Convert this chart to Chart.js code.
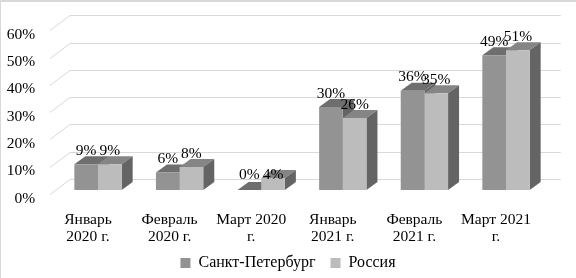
<!DOCTYPE html>
<html>
<head>
<meta charset="utf-8">
<style>
  html, body { margin: 0; padding: 0; background: #fff; }
  #wrap { position: relative; width: 576px; height: 278px; overflow: hidden; }
  #wrap::after { content: ""; position: absolute; left: 0; top: 0; right: 0; bottom: 0; border-top: 2px solid #d9d9d9; border-left: 1px solid #d9d9d9; pointer-events: none; }
</style>
</head>
<body>
<div id="wrap"><canvas id="chart" width="576" height="278"></canvas></div>
<script src="https://cdn.jsdelivr.net/npm/chart.js@4/dist/chart.umd.min.js"></script>
<script>
const categories = [
  ["Январь", "2020 г."], ["Февраль", "2020 г."], ["Март 2020", "г."],
  ["Январь", "2021 г."], ["Февраль", "2021 г."], ["Март 2021", "г."],
];
const spbValues = [9.4, 6.4, 0, 30.4, 36.4, 49.4];
const russiaValues = [9.4, 8.4, 4.4, 26.4, 35.4, 51.2];
const spbLabel = "Санкт-Петербург";
const russiaLabel = "Россия";

const fontFamily = '"Liberation Serif", "Times New Roman", serif';
const textFont = { family: fontFamily, size: 15.5 };
const rightPad = 29.2;
const depthX = 11;
const depthY = 8;
const faces = [
  { top: "#6e6e6e", side: "#646464" },
  { top: "#858585", side: "#646464" },
];

function quad(ctx, pts, color) {
  ctx.beginPath();
  ctx.moveTo(pts[0][0], pts[0][1]);
  pts.slice(1).forEach((p) => ctx.lineTo(p[0], p[1]));
  ctx.closePath();
  ctx.fillStyle = color;
  ctx.fill();
}

// legend is centred on the whole canvas, not on the padded area
const legendCentre = {
  id: "legendCentre",
  afterLayout(chart) {
    chart.legend.right += rightPad;
    chart.legend.top += 3;
    chart.legend.bottom += 3;
  },
};

const walls = {
  id: "walls",
  beforeDatasetsDraw(chart) {
    const { ctx, chartArea } = chart;
    const y = chart.scales.y;
    ctx.save();
    ctx.strokeStyle = "#d9d9d9";
    ctx.lineWidth = 1;
    y.ticks.forEach((t) => {
      const py = Math.round(y.getPixelForValue(t.value) - 11) + 0.5;
      ctx.beginPath();
      ctx.moveTo(50, py + 15);
      ctx.lineTo(70, py);
      ctx.lineTo(chartArea.right + 14, py);
      ctx.stroke();
    });
    ctx.restore();
  },
};

// top and side faces of the bars, behind the front faces
const boxes = {
  id: "boxes",
  beforeDatasetsDraw(chart) {
    const { ctx } = chart;
    ctx.save();
    chart.data.datasets.forEach((ds, d) => {
      chart.getDatasetMeta(d).data.forEach((el) => {
        const half = el.width / 2;
        const l = el.x - half, r = el.x + half;
        quad(ctx, [[l, el.y], [l + depthX, el.y - depthY], [r + depthX, el.y - depthY], [r, el.y]], faces[d].top);
        quad(ctx, [[r, el.y], [r + depthX, el.y - depthY], [r + depthX, el.base - depthY], [r, el.base]], faces[d].side);
      });
    });
    ctx.restore();
  },
};

const valueLabels = {
  id: "valueLabels",
  afterDatasetsDraw(chart) {
    const { ctx } = chart;
    ctx.save();
    ctx.font = "15.5px " + fontFamily;
    ctx.fillStyle = "#000";
    ctx.textAlign = "center";
    ctx.textBaseline = "middle";
    chart.data.datasets.forEach((ds, d) => {
      chart.getDatasetMeta(d).data.forEach((el, i) => {
        // March 2020 labels sit together just above the floor
        const ly = i === 2 ? el.base - 15 : el.y - 13.5;
        ctx.fillText(Math.round(ds.data[i]) + "%", el.x, ly);
      });
    });
    ctx.restore();
  },
};

new Chart(document.getElementById("chart"), {
  type: "bar",
  data: {
    labels: categories,
    datasets: [
      { label: spbLabel, data: spbValues, backgroundColor: "#939393", borderWidth: 0 },
      { label: russiaLabel, data: russiaValues, backgroundColor: "#bcbcbc", borderWidth: 0 },
    ],
  },
  options: {
    responsive: false,
    animation: false,
    layout: { autoPadding: false, padding: { top: 26.2, right: rightPad, left: 0, bottom: 0 } },
    datasets: { bar: { categoryPercentage: 0.58, barPercentage: 1 } },
    scales: {
      x: {
        grid: { display: false },
        border: { display: false },
        afterFit(scale) { scale.height = 59; },
        ticks: {
          color: "#000",
          font: { ...textFont, lineHeight: "17.5px" },
          maxRotation: 0,
          autoSkip: false,
          padding: 13,
          labelOffset: -10,
        },
      },
      y: {
        min: 0,
        max: 60,
        grid: { display: false },
        border: { display: false },
        afterFit(scale) { scale.width = 57.2; },
        ticks: {
          stepSize: 10,
          color: "#000",
          font: textFont,
          padding: 14,
          labelOffset: 8.5,
          callback: (v) => v + "%",
        },
      },
    },
    plugins: {
      tooltip: { enabled: false },
      legend: {
        position: "bottom",
        labels: {
          color: "#000",
          font: { family: fontFamily, size: 16 },
          boxWidth: 10,
          boxHeight: 10,
          padding: 3,
          // extra gap between the two legend entries
          generateLabels(chart) {
            return Chart.defaults.plugins.legend.labels.generateLabels(chart).map((item, i) => {
              if (i === 0) item.text += "\u00a0\u00a0\u00a0";
              return item;
            });
          },
        },
      },
    },
  },
  plugins: [legendCentre, walls, boxes, valueLabels],
});
</script>
</body>
</html>
